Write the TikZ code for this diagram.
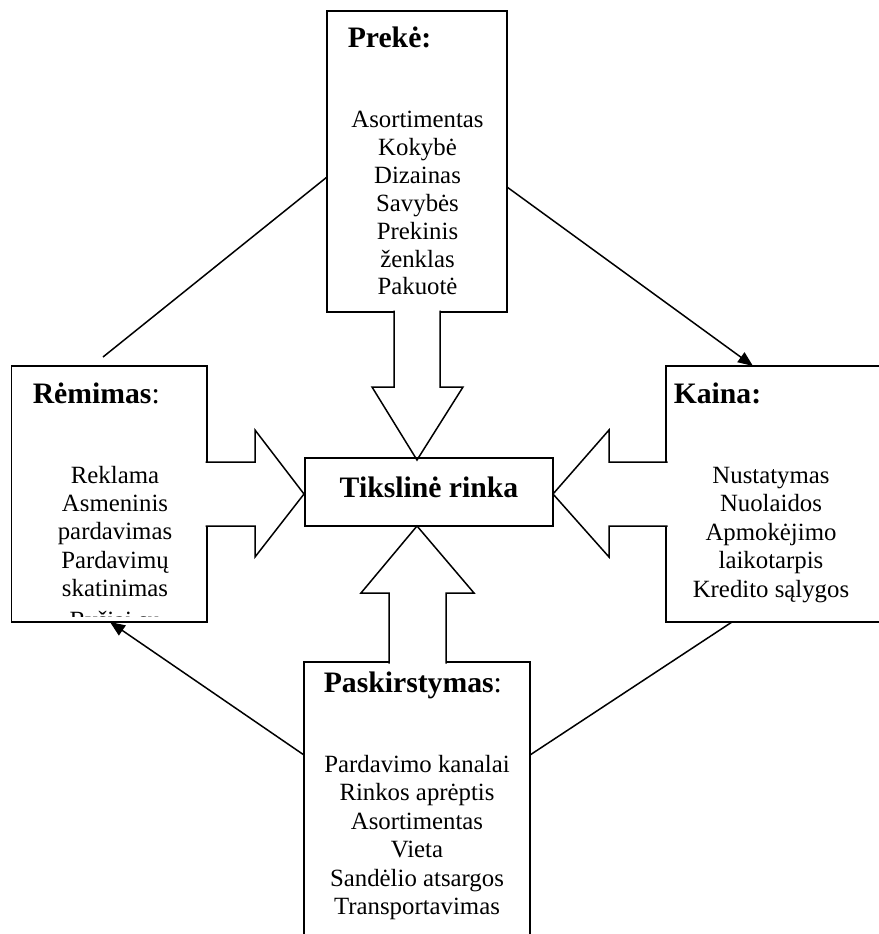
\documentclass[tikz,border=0pt]{standalone}
\usepackage{fontspec}
\setmainfont{Liberation Serif}
\usetikzlibrary{arrows.meta,calc}

\begin{document}
\begin{tikzpicture}[x=1pt,y=-1pt, line width=1.5pt,
  box/.style={draw, inner sep=0pt, outer sep=0pt},
  blockarrow/.style={draw, fill=white, line join=miter},
  title/.style={inner sep=0pt, anchor=base west, font=\fontsize{29.7}{34}\selectfont\bfseries},
  item/.style={inner sep=0pt, anchor=base, font=\fontsize{24.8}{28}\selectfont},
  link/.style={draw, line width=1.5pt},
  tip/.style={-{Triangle[length=15pt,width=12pt]}}
]
\useasboundingbox (0,0) rectangle (878,934);

% the four framed blocks of the marketing mix
\node[box, minimum width=180pt, minimum height=301pt] (prek) at (417,161.5) {};
\node[box, minimum width=195.5pt, minimum height=256pt] (rem) at (109.25,494) {};
\node[box, minimum width=214pt, minimum height=256pt] (kaina) at (773,494) {};
\node[box, minimum width=226pt, minimum height=298pt] (pask) at (417,811) {};

% block arrows towards the target market (open paths, filled white)
\draw[blockarrow] (394,310.5) -- (394,387) -- (372,387) -- (417,460) -- (463,387) -- (440,387) -- (440,310.5);
\draw[blockarrow] (205.5,462) -- (255,462) -- (255,430) -- (304,494) -- (255,557) -- (255,526) -- (205.5,526);
\draw[blockarrow] (667.5,462) -- (609,462) -- (609,430) -- (553,494) -- (609,557) -- (609,526) -- (667.5,526);
\draw[blockarrow] (389,663.5) -- (389,593) -- (361,593) -- (417,526) -- (474,593) -- (446,593) -- (446,663.5);

% target market in the middle
\node[box, minimum width=248pt, minimum height=68pt] (tiks) at (429,492) {};
\node[title, anchor=base] (tiksT) at (429,497) {Tikslinė rinka};

% thin links between the blocks
\coordinate (remtop) at (103,357);
\draw[link] ([yshift=-15.5pt]prek.west) -- (remtop);
\draw[link, tip] ([yshift=-25.5pt]prek.east) -- ([xshift=-20pt]kaina.north);
\draw[link, tip] ([yshift=56pt]pask.west) -- ([xshift=0.75pt]rem.south);
\draw[link] ([xshift=-41pt]kaina.south) -- ([yshift=56pt]pask.east);

% headings
\node[title] (prekT) at (347,48) {Prekė:};
\node[title] (remT) at (32,403) {Rėmimas\mdseries:};
\node[title] (kainaT) at (673,403) {Kaina:};
\node[title] (paskT) at (323,692) {Paskirstymas\mdseries:};

% contents of each block
\foreach \s [count=\i] in {Asortimentas, Kokybė, Dizainas, Savybės, Prekinis, ženklas, Pakuotė}
  \node[item] (prek\i) at (417.5,{127.5+27.9*(\i-1)}) {\s};

\foreach \s [count=\i] in {Reklama, Asmeninis, pardavimas, Pardavimų, skatinimas}
  \node[item] (rem\i) at (115,{483+28.4*(\i-1)}) {\s};
% the last line overflows the frame and is cut off
\begin{scope}
  \clip (12,366) rectangle (207,616);
  \node[item] (rem6) at (115,628) {Ryšiai su};
\end{scope}

\foreach \s [count=\i] in {Nustatymas, Nuolaidos, Apmokėjimo, laikotarpis, Kredito sąlygos}
  \node[item] (kaina\i) at (771,{483+28.5*(\i-1)}) {\s};

\foreach \s [count=\i] in {Pardavimo kanalai, Rinkos aprėptis, Asortimentas, Vieta, Sandėlio atsargos, Transportavimas}
  \node[item] (pask\i) at (417,{772+28.5*(\i-1)}) {\s};
\end{tikzpicture}
\end{document}
